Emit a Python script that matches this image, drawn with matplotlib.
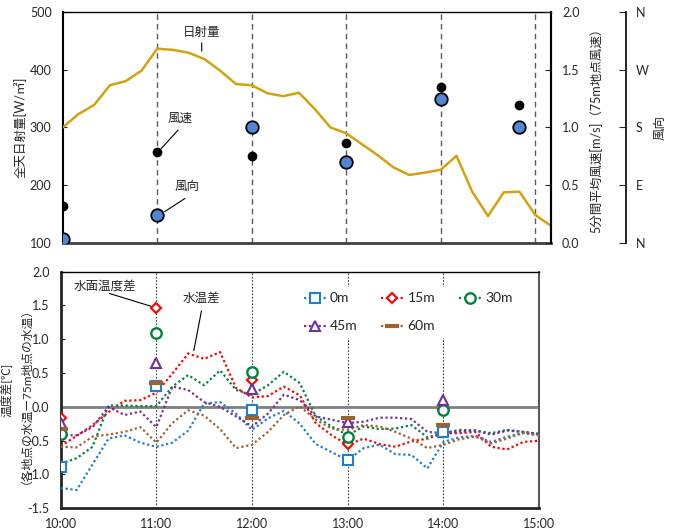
import matplotlib
matplotlib.use("Agg")
import matplotlib.pyplot as plt
from matplotlib.lines import Line2D

plt.rcParams['font.family'] = ['Lato', 'Noto Sans CJK JP', 'DejaVu Sans']
plt.rcParams['axes.unicode_minus'] = False

# ---------------- data: upper panel ----------------
rad_minutes = [0, 10, 20, 30, 40, 50, 60, 70, 80, 90, 100, 110, 120, 130, 140, 150,
               160, 170, 180, 190, 200, 210, 220, 230, 240, 250, 260, 270, 280, 290, 300, 310]
radiation = [300, 323, 339, 373, 380, 398, 436, 434, 429, 418, 398, 375, 373, 359, 354, 360,
             332, 300, 290, 271, 252, 231, 218, 222, 227, 251, 189, 147, 188, 189, 149, 130]

wind_minutes = [0, 60, 120, 180, 240, 290]
wind_speed = [0.32, 0.79, 0.75, 0.87, 1.35, 1.19]
wind_dir = [7, 44, 180, 127, 224, 180]
dir_ticks = [0, 90, 180, 270, 360]
dir_labels = ["N", "E", "S", "W", "N"]

# ---------------- data: lower panel ----------------
temp_minutes = [0, 10, 20, 30, 40, 50, 60, 70, 80, 90, 100, 110, 120, 130, 140, 150,
                160, 170, 180, 190, 200, 210, 220, 230, 240, 250, 260, 270, 280, 290, 300]
diff_0m = [-1.20, -1.23, -0.85, -0.47, -0.42, -0.53, -0.59, -0.53, -0.35, 0.05, 0.07, -0.10,
           -0.34, -0.17, -0.06, -0.25, -0.55, -0.67, -0.79, -0.61, -0.56, -0.70, -0.71, -0.91,
           -0.52, -0.45, -0.43, -0.52, -0.44, -0.39, -0.42]
diff_15m = [-0.58, -0.43, -0.27, -0.08, 0.09, 0.10, 0.21, 0.49, 0.79, 0.71, 0.81, 0.28,
            0.14, 0.16, 0.30, 0.17, -0.24, -0.42, -0.56, -0.47, -0.55, -0.59, -0.51, -0.47,
            -0.39, -0.39, -0.37, -0.59, -0.63, -0.52, -0.50]
diff_30m = [-0.84, -0.76, -0.59, 0.02, 0.02, 0.01, 0.01, 0.30, 0.47, 0.32, 0.54, 0.25,
            0.18, 0.32, 0.52, 0.35, -0.14, -0.29, -0.42, -0.29, -0.33, -0.32, -0.27, -0.45,
            -0.39, -0.34, -0.35, -0.39, -0.34, -0.37, -0.40]
diff_45m = [-0.42, -0.42, -0.30, 0.00, -0.12, -0.07, -0.30, 0.30, 0.25, 0.07, 0.00, -0.14,
            -0.29, -0.10, 0.18, 0.10, -0.14, -0.19, -0.24, -0.22, -0.16, -0.16, -0.18, -0.37,
            -0.39, -0.36, -0.35, -0.41, -0.35, -0.37, -0.40]
diff_60m = [-0.59, -0.60, -0.44, -0.41, -0.37, -0.30, -0.53, -0.24, -0.05, -0.13, -0.33, -0.61,
            -0.56, -0.37, -0.12, 0.01, -0.19, -0.32, -0.34, -0.27, -0.29, -0.37, -0.47, -0.61,
            -0.56, -0.48, -0.44, -0.54, -0.47, -0.38, -0.42]

surf_minutes = [0, 60, 120, 180, 240]
surf_0m = [-0.89, 0.31, -0.04, -0.79, -0.37]
surf_15m = [-0.17, 1.46, 0.40, -0.55, -0.03]
surf_30m = [-0.40, 1.10, 0.52, -0.44, -0.05]
surf_45m = [-0.24, 0.65, 0.27, -0.22, 0.10]
surf_60m = [-0.32, 0.35, -0.16, -0.16, -0.27]

series_labels = ["0m", "15m", "30m", "45m", "60m"]
hour_ticks = [0, 1, 2, 3, 4, 5]
hour_labels = ["10:00", "11:00", "12:00", "13:00", "14:00", "15:00"]


def to_h(mins):
    return [m / 60 for m in mins]


TXT = '#262626'
GOLD = '#D4A20C'
fig = plt.figure(figsize=(6.75, 5.3), dpi=100)

# ================= upper panel =================
ax1 = fig.add_axes([0.0929, 0.541, 0.7234, 0.437])
ax1.plot(to_h(rad_minutes), radiation, color=GOLD, lw=1.8, zorder=3)
ax1.set_xlim(0, 310 / 60)
ax1.set_ylim(100, 500)
ax1.set_yticks([100, 200, 300, 400, 500])
ax1.set_xticks(hour_ticks[1:])
ax1.tick_params(axis='x', length=0, labelbottom=False)
ax1.tick_params(axis='y', direction='in', length=3, pad=8, labelsize=9, colors=TXT)
ax1.grid(axis='x', color='#595959', ls=(0, (4, 3)), lw=1.0)
ax1.set_ylabel("全天日射量[W/㎡]", fontsize=9, color=TXT)
ax1.yaxis.set_label_coords(-0.073, 0.5)
ax1.spines['left'].set_linewidth(1.5)
ax1.spines['bottom'].set_linewidth(2.0)
ax1.spines['bottom'].set_color('#404040')
ax1.spines['top'].set_linewidth(1.0)
ax1.spines['right'].set_linewidth(1.5)

ax2 = ax1.twinx()
ax2.set_ylim(0, 2.0)
ax2.set_yticks([0.0, 0.5, 1.0, 1.5, 2.0])
ax2.set_yticklabels([f"{v:.1f}" for v in [0.0, 0.5, 1.0, 1.5, 2.0]])
ax2.tick_params(axis='y', direction='in', length=4, pad=8, labelsize=9, colors=TXT)
ax2.plot(to_h(wind_minutes), wind_speed, 'o', color='black', ms=6, ls='none', zorder=4)
ax2.set_ylabel("5分間平均風速[m/s]（75m地点風速）", fontsize=9, color=TXT)
ax2.yaxis.set_label_coords(1.078, 0.5)
for s in ['top', 'left', 'bottom']:
    ax2.spines[s].set_visible(False)
ax2.spines['right'].set_linewidth(1.5)

ax3 = ax1.twinx()
ax3.spines['right'].set_position(('axes', 1.1536))
for s in ['top', 'left', 'bottom']:
    ax3.spines[s].set_visible(False)
ax3.spines['right'].set_linewidth(1.2)
ax3.set_ylim(0, 360)
ax3.set_yticks(dir_ticks)
ax3.set_yticklabels(dir_labels)
ax3.tick_params(axis='y', direction='in', length=5, pad=7, labelsize=9, colors=TXT)
ax3.plot(to_h(wind_minutes), wind_dir, 'o', mfc='#4F87D3', mec='black', mew=1.3,
         ms=9, ls='none', zorder=5)
ax3.set_ylabel("風向", fontsize=9, color=TXT)
ax3.yaxis.set_label_coords(1.209, 0.5)

# annotations (upper)
ax1.text(1.474, 465, "日射量", fontsize=9, ha='center', va='center', color=TXT)
ax1.annotate('', xy=(1.471, 427), xytext=(1.471, 451),
             arrowprops=dict(arrowstyle='-', lw=0.8, color='black'))
ax1.text(1.241, 316, "風速", fontsize=9, ha='center', va='center', color=TXT)
ax1.annotate('', xy=(1.022, 260), xytext=(1.241, 299),
             arrowprops=dict(arrowstyle='-', lw=0.8, color='black'))
ax1.text(1.312, 199, "風向", fontsize=9, ha='center', va='center', color=TXT)
ax1.annotate('', xy=(1.054, 152), xytext=(1.318, 180),
             arrowprops=dict(arrowstyle='-', lw=0.8, color='black'))

# ================= lower panel =================
bx = fig.add_axes([0.0899, 0.041, 0.7086, 0.4464])
bx.set_xlim(0, 5)
bx.set_ylim(-1.5, 2.0)
yt = [-1.5, -1.0, -0.5, 0.0, 0.5, 1.0, 1.5, 2.0]
bx.set_yticks(yt)
bx.set_yticklabels([f"{v:.1f}" for v in yt])
bx.set_xticks(hour_ticks)
bx.set_xticklabels(hour_labels)
bx.tick_params(axis='x', length=0, pad=7, labelsize=9, colors=TXT)
bx.tick_params(axis='y', direction='in', length=3, pad=8, labelsize=9, colors=TXT)
for h in hour_ticks[1:-1]:
    bx.axvline(h, color='#404040', ls=(0, (1.5, 1.5)), lw=0.8, zorder=1)
bx.axhline(0, color='#808080', lw=2.0, zorder=2)
bx.spines['left'].set_linewidth(2.0)
bx.spines['left'].set_color('#262626')
bx.spines['bottom'].set_linewidth(2.0)
bx.spines['bottom'].set_color('#262626')
bx.spines['top'].set_linewidth(1.0)
bx.spines['right'].set_linewidth(1.5)
bx.spines['right'].set_color('#595959')
bx.set_ylabel("温度差[℃]\n（各地点の水温ー75m地点の水温）", fontsize=8.5, color=TXT,
              linespacing=1.05)
bx.yaxis.set_label_coords(-0.0746, 0.5)

colors = ['#1F7FD0', '#FF0000', '#00843D', '#7030A0', '#A0622D']
markers = ['s', 'D', 'o', '^', '_']
msizes = [6.5, 5.5, 7.5, 7, 10]
mews = [1.5, 1.5, 1.7, 1.5, 3]
lines = [diff_0m, diff_15m, diff_30m, diff_45m, diff_60m]
surfs = [surf_0m, surf_15m, surf_30m, surf_45m, surf_60m]
th = to_h(temp_minutes)
sh = to_h(surf_minutes)
handles = []
for c, m, ms, mw, ln, sf, lab in zip(colors, markers, msizes, mews, lines, surfs, series_labels):
    bx.plot(th, ln, color=c, ls=(0, (1, 1.2)), lw=1.6, zorder=3)
    bx.plot(sh, sf, marker=m, color=c, mfc='white', mec=c, ms=ms, mew=mw, ls='none', zorder=5)
    handles.append(Line2D([], [], color=c, ls=(0, (1, 1.2)), lw=1.6, marker=m, mfc='white',
                          mec=c, ms=ms, mew=mw))

order = [0, 3, 1, 4, 2]
leg = bx.legend([handles[i] for i in order], [series_labels[i] for i in order],
                ncol=3, loc='upper left', bbox_to_anchor=(0.482, 0.965),
                frameon=True, facecolor='white', edgecolor='none', framealpha=1,
                fontsize=10, handlelength=1.6, handletextpad=0.3, columnspacing=1.7,
                labelspacing=1.15, borderpad=0.4, fancybox=False)
leg.set_zorder(10)
for t in leg.get_texts():
    t.set_color(TXT)

bx.text(0.463, 1.80, "水面温度差", fontsize=9, ha='center', va='center', color=TXT)
bx.annotate('', xy=(0.975, 1.475), xytext=(0.481, 1.69),
            arrowprops=dict(arrowstyle='-', lw=0.8, color='black'))
bx.text(1.474, 1.61, "水温差", fontsize=9, ha='center', va='center', color=TXT)
bx.annotate('', xy=(1.386, 0.79), xytext=(1.477, 1.46),
            arrowprops=dict(arrowstyle='-', lw=0.8, color='black'))

fig.savefig("out.png", dpi=100)
